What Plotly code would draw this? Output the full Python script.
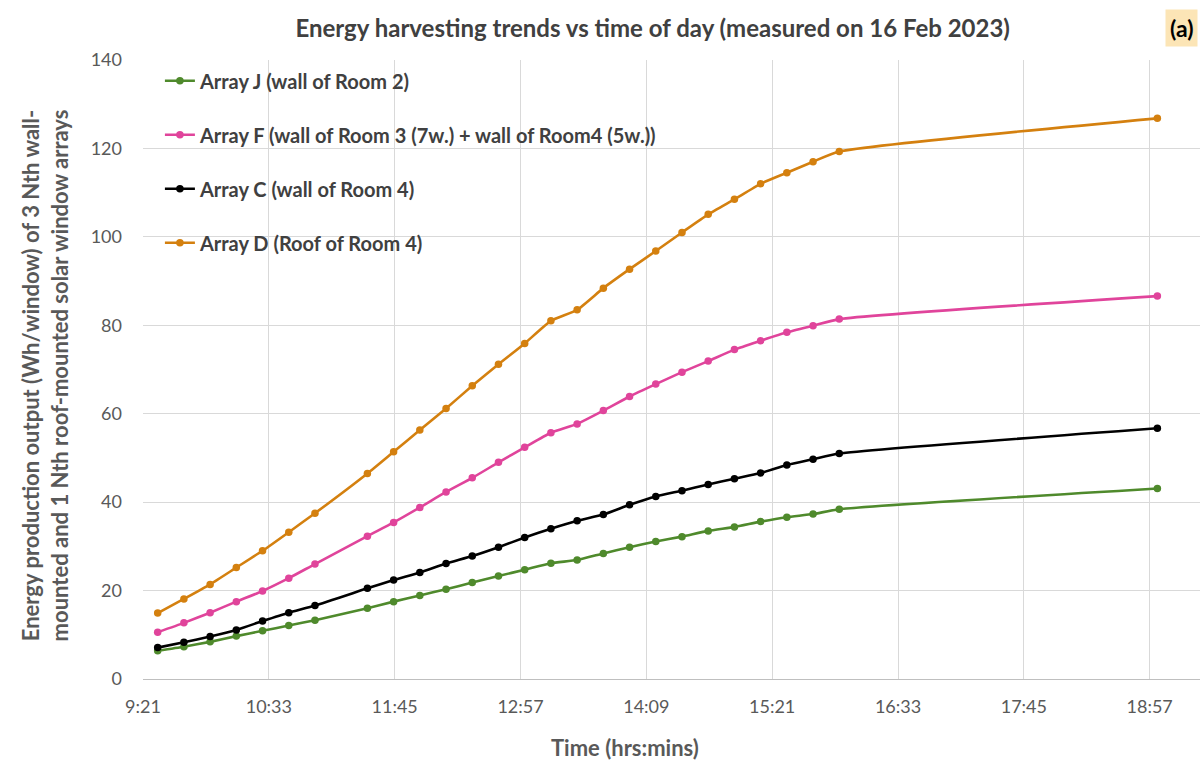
import plotly.graph_objects as go

DATE = "2023-02-16 "
times = ["09:30", "09:45", "10:00", "10:15", "10:30", "10:45", "11:00", "11:30",
         "11:45", "12:00", "12:15", "12:30", "12:45", "13:00", "13:15", "13:30",
         "13:45", "14:00", "14:15", "14:30", "14:45", "15:00", "15:15", "15:30",
         "15:45", "16:00", "19:02"]

array_j = [6.4, 7.3, 8.4, 9.7, 10.9, 12.1, 13.3, 16.0, 17.5, 18.9, 20.3, 21.8, 23.3,
           24.7, 26.2, 26.9, 28.4, 29.8, 31.1, 32.2, 33.5, 34.4, 35.6, 36.6, 37.3,
           38.4, 43.1]
array_f = [10.6, 12.7, 15.0, 17.5, 19.9, 22.8, 26.0, 32.3, 35.4, 38.8, 42.3, 45.5, 49.0,
           52.4, 55.7, 57.7, 60.7, 63.9, 66.7, 69.4, 71.9, 74.5, 76.5, 78.4, 79.9,
           81.4, 86.6]
array_c = [7.1, 8.3, 9.6, 11.1, 13.1, 15.0, 16.6, 20.5, 22.4, 24.1, 26.1, 27.8, 29.8,
           32.0, 34.0, 35.8, 37.2, 39.4, 41.3, 42.6, 44.0, 45.3, 46.6, 48.4, 49.7,
           51.0, 56.7]
array_d = [14.9, 18.1, 21.4, 25.2, 29.0, 33.2, 37.5, 46.5, 51.4, 56.3, 61.2, 66.3, 71.2,
           75.9, 81.0, 83.5, 88.4, 92.7, 96.8, 101.0, 105.1, 108.5, 112.0, 114.5, 117.0,
           119.3, 126.8]

series_names = ["Array J (wall of Room 2)",
                "Array F (wall of Room 3 (7w.) + wall of Room4 (5w.))",
                "Array C (wall of Room 4)",
                "Array D (Roof of Room 4)"]
series_values = [array_j, array_f, array_c, array_d]
series_colors = ["#4f8a2c", "#e0449b", "#000000", "#d4800f"]

x = [DATE + t for t in times]

FONT = "Lato"
fig = go.Figure()
for i, (name, vals, col) in enumerate(zip(series_names, series_values, series_colors)):
    fig.add_trace(go.Scatter(
        x=x, y=vals, name=name, mode="lines+markers",
        line=dict(color=col, width=2.6, shape="spline", smoothing=0.5),
        marker=dict(color=col, size=7.5),
        legendgroup=f"g{i}",
    ))

fig.update_layout(
    width=1202, height=761,
    margin=dict(l=143, r=2, t=60, b=82),
    paper_bgcolor="white", plot_bgcolor="white",
    font=dict(family=FONT, color="#595959", size=17),
    showlegend=True,
    legend=dict(x=0.016, y=0.998, xanchor="left", yanchor="top",
                bgcolor="rgba(0,0,0,0)", tracegroupgap=25,
                font=dict(family=FONT, size=20, color="#404040", weight="bold")),
    title=dict(text="<b>Energy harvesting trends vs time of day (measured on 16 Feb 2023)</b>",
               x=0.543, xanchor="center", y=0.963, yanchor="middle",
               font=dict(family=FONT, size=24, color="#404040")),
)

fig.update_xaxes(
    type="date",
    range=[DATE + "09:21:36", DATE + "19:26:24"],
    tick0=DATE + "09:21:36", dtick=72 * 60 * 1000,
    tickformat="%-H:%M",
    showgrid=True, gridcolor="#d9d9d9", gridwidth=1,
    showline=True, linecolor="#bfbfbf", linewidth=1,
    ticks="", zeroline=False,
    ticklabelstandoff=11,
    tickfont=dict(family=FONT, size=18, color="#595959"),
)
fig.update_yaxes(
    range=[0, 140], dtick=20,
    showgrid=True, gridcolor="#d9d9d9", gridwidth=1,
    zeroline=False, showline=False, ticks="",
    ticklabelstandoff=20,
    tickfont=dict(family=FONT, size=18, color="#595959"),
)

fig.add_annotation(
    xref="paper", yref="paper", x=0.456, y=-0.111, xanchor="center", yanchor="middle",
    showarrow=False, text="<b>Time (hrs:mins)</b>",
    font=dict(family=FONT, size=22, color="#595959"),
)
fig.add_annotation(
    xref="paper", yref="paper", x=-0.093, y=0.49, xanchor="center", yanchor="middle",
    textangle=-90, showarrow=False, align="center",
    text="<b>Energy production output (Wh/window) of 3 Nth wall-<br>mounted and 1 Nth roof-mounted solar window arrays</b>",
    font=dict(family=FONT, size=22, color="#595959"),
)
fig.add_annotation(
    xref="paper", yref="paper", x=0.998, y=1.052, xanchor="right", yanchor="middle",
    showarrow=False, text="<b>(a)</b>", bgcolor="#fce5b6", borderpad=4,
    font=dict(family=FONT, size=23, color="#000000"),
)

fig.write_html("out.html", config={"displayModeBar": False},
               post_script="document.body.style.margin='0';document.body.style.padding='0';")
